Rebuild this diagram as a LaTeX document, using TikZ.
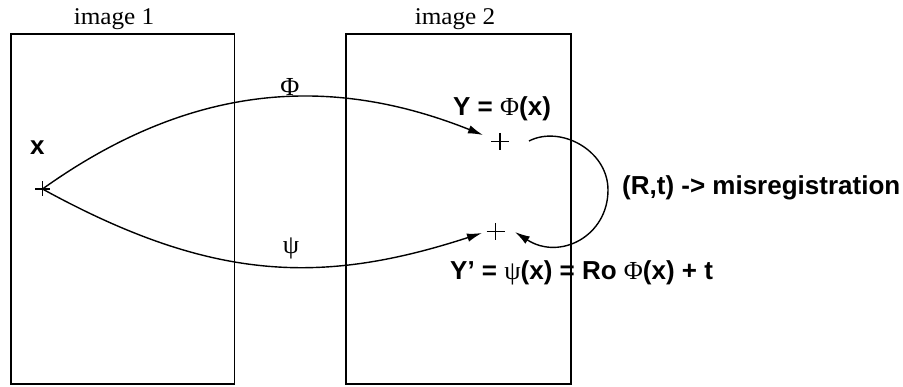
\documentclass[tikz,border=0pt]{standalone}
\usepackage{fontspec}
\setmainfont{Liberation Serif}
\setsansfont{Liberation Sans}
\newfontfamily\greekfont{Liberation Serif}
\newfontfamily\titlefont{Liberation Serif}[FakeStretch=1.05]
\usetikzlibrary{arrows.meta}
\newcommand{\gk}[1]{{\greekfont\mdseries #1}}
\begin{document}
\begin{tikzpicture}[x=1pt,y=-1pt,
  frame/.style={draw, line width=1.8pt, inner sep=0pt, anchor=north west},
  lab/.style={font=\sffamily\bfseries\fontsize{26}{30}\selectfont, inner sep=0pt},
  ttl/.style={font=\titlefont\fontsize{24}{28}\selectfont, inner sep=0pt},
  greek/.style={font=\greekfont\fontsize{26}{30}\selectfont, inner sep=0pt},
  map/.style={line width=1.4pt, -{Latex[length=15pt,width=8.5pt]}},
  crossline/.style={line width=1.3pt}]
\useasboundingbox (0,0) rectangle (903,387);
% frames
\node[frame, minimum width=223.5pt, minimum height=349.5pt] (img1) at (10,33.5) {};
\node[frame, minimum width=225pt, minimum height=349.5pt] (img2) at (345,33.5) {};
\node[ttl, anchor=base] (t1) at (114,25) {image 1};
\node[ttl, anchor=base] (t2) at (455,25) {image 2};
% points
\coordinate (xp) at (42.5,189);
\coordinate (Yp) at (500,141.5);
\coordinate (Ypp) at (495.5,231.5);
\draw[crossline] (xp) +(-7.5,0) -- +(7.5,0) (xp) +(0,-7.5) -- +(0,7.5);
\draw[crossline] (Yp) +(-9,0) -- +(9,0) (Yp) +(0,-8.5) -- +(0,8.5);
\draw[crossline] (Ypp) +(-9,0) -- +(9,0) (Ypp) +(0,-8.5) -- +(0,8.5);
% labels
\node[lab, anchor=base west] (xl) at (30,155) {x};
\node[lab, anchor=base west] (Yl) at (453,116) {Y = \gk{Φ}(x)};
\node[lab, anchor=base west] (Ypl) at (450,280) {Y’ = \gk{ψ}(x) = Ro \gk{Φ}(x) + t};
\node[lab, anchor=base west] (Rt) at (622,195) {(R,t) -> misregistration};
\node[greek] (phil) at (290,87) {Φ};
\node[greek] (psil) at (291,248) {ψ};
% connectors
\coordinate (Ytip) at (483,135);
\coordinate (Yptip) at (482,233);
\draw[map] (xp) .. controls (195,80) and (335,76) .. (Ytip);
\draw[map] (xp) .. controls (212,282) and (322,285) .. (Yptip);
\coordinate (ls) at (529,141);
\coordinate (lm) at (608,190);
\coordinate (le) at (515,232);
\draw[map] (ls) .. controls (560,125) and (608,150) .. (lm) .. controls (608,236) and (560,261) .. (le);
\end{tikzpicture}
\end{document}
